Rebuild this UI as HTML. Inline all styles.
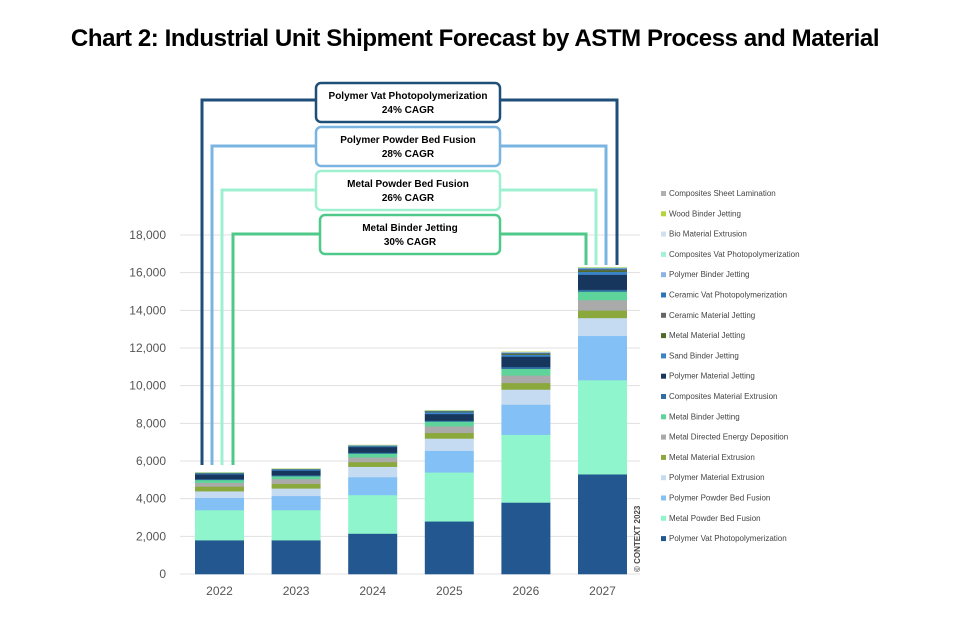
<!DOCTYPE html>
<html><head><meta charset="utf-8"><style>
body{margin:0;background:#fff;width:962px;height:616px;overflow:hidden}
svg{font-family:"Liberation Sans",sans-serif}
</style></head><body>
<svg id="s" width="962" height="616" xmlns="http://www.w3.org/2000/svg">
<text x="475" y="46" text-anchor="middle" font-size="24" font-weight="bold" fill="#000" style="letter-spacing:-0.4px">Chart 2: Industrial Unit Shipment Forecast by ASTM Process and Material</text>
<g id="g"></g>
</svg>
<script>
const g=document.getElementById('g');let h='';
const y0=574,k=339/18000;
for(let v=0;v<=18000;v+=2000){const y=y0-v*k;
 h+=`<line x1="180" x2="640" y1="${y}" y2="${y}" stroke="#e0e0e0" stroke-width="1"/>`;
 h+=`<text x="166" y="${y+4}" text-anchor="end" font-size="12" fill="#555">${v.toLocaleString('en-US')}</text>`;}
const cols=['#23578f','#8ff5cc','#82c0f5','#c5dbf1','#8aa83c','#aaaaaa','#5ed49a','#2f6ea3','#17365d','#3b84c7','#4e6b2c','#666','#2e75b6','#8db3e2','#a6f0d6','#d0e0f0','#b5d33d','#b0b0b0'];
const data=[[1800,1600,650,350,250,200,150,50,250,50,10,10,10,10,10,5,5,0],
[1800,1600,750,400,250,250,150,50,250,50,10,10,10,10,10,5,5,0],
[2150,2050,950,550,250,250,200,50,300,50,10,10,10,10,10,5,5,0],
[2800,2600,1150,650,300,350,250,50,350,100,30,20,20,10,10,10,10,0],
[3800,3600,1600,800,350,400,350,100,550,100,50,30,30,20,10,10,10,0],
[5300,5000,2350,950,400,550,450,100,800,150,80,50,50,30,20,10,10,0]];
const yrs=['2022','2023','2024','2025','2026','2027'];
data.forEach((d,i)=>{const x=195+i*76.6;let c=0;
 d.forEach((v,j)=>{if(!v)return;const ya=y0-(c+v)*k;h+=`<rect x="${x}" y="${ya}" width="49" height="${v*k+0.3}" fill="${cols[j]}"/>`;c+=v;});
 h+=`<text x="${x+24.5}" y="595" text-anchor="middle" font-size="12" fill="#555">${yrs[i]}</text>`;});
h+=`<text transform="translate(640,572) rotate(-90)" font-size="8" font-weight="bold" fill="#444">© CONTEXT 2023</text>`;
const leg=['Composites Sheet Lamination','Wood Binder Jetting','Bio Material Extrusion','Composites Vat Photopolymerization','Polymer Binder Jetting','Ceramic Vat Photopolymerization','Ceramic Material Jetting','Metal Material Jetting','Sand Binder Jetting','Polymer Material Jetting','Composites Material Extrusion','Metal Binder Jetting','Metal Directed Energy Deposition','Metal Material Extrusion','Polymer Material Extrusion','Polymer Powder Bed Fusion','Metal Powder Bed Fusion','Polymer Vat Photopolymerization'];
const lc=['#b0b0b0','#b5d33d','#d0e0f0','#a6f0d6','#8db3e2','#2e75b6','#666','#4e6b2c','#3b84c7','#17365d','#2f6ea3','#5ed49a','#aaaaaa','#8aa83c','#c5dbf1','#82c0f5','#8ff5cc','#23578f'];
leg.forEach((t,i)=>{const y=194+i*20.3;h+=`<rect x="661" y="${y-3}" width="5" height="5" fill="${lc[i]}"/><text x="669" y="${y+2}" font-size="8" fill="#444">${t}</text>`;});
const L=[[202,465,100,617,'#1f4e79'],[212,465,146,606,'#7ab4e0'],[222,465,190,596,'#9ff0d0'],[233,465,234,586,'#4fc98a']];
L.forEach(([xl,yb,yt,xr,c])=>{h+=`<polyline points="${xl},${yb} ${xl},${yt} 330,${yt}" fill="none" stroke="${c}" stroke-width="3"/><polyline points="480,${yt} ${xr},${yt} ${xr},265" fill="none" stroke="${c}" stroke-width="3"/>`;});
const B=[[316,83,'Polymer Vat Photopolymerization','24% CAGR','#1f4e79'],[316,127,'Polymer Powder Bed Fusion','28% CAGR','#7ab4e0'],[316,171,'Metal Powder Bed Fusion','26% CAGR','#9ff0d0'],[320,215,'Metal Binder Jetting','30% CAGR','#4fc98a']];
B.forEach(([x,y,a,b,c])=>{const w=500-x;h+=`<rect x="${x}" y="${y}" width="${w}" height="39" rx="5" fill="#fff" stroke="${c}" stroke-width="2.5"/><text x="${x+w/2}" y="${y+16}" text-anchor="middle" font-size="10" font-weight="bold">${a}</text><text x="${x+w/2}" y="${y+30}" text-anchor="middle" font-size="10" font-weight="bold">${b}</text>`;});
g.innerHTML=h;
</script>
</body></html>
